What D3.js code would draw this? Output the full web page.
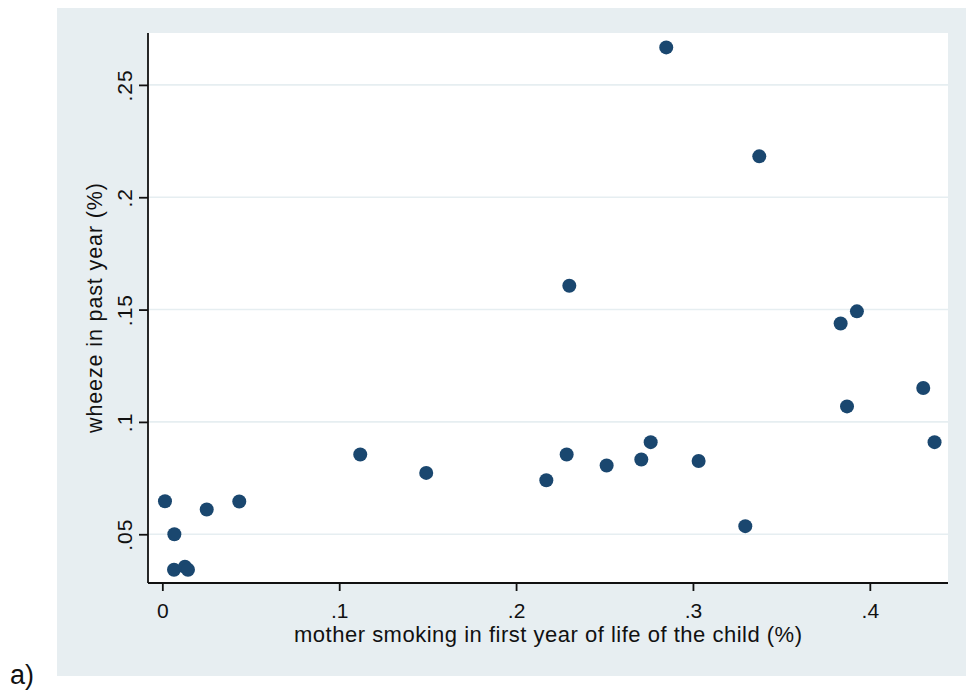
<!DOCTYPE html>
<html>
<head>
<meta charset="utf-8">
<script src="https://cdn.jsdelivr.net/npm/d3@7"></script>
<style>
  html, body { margin: 0; padding: 0; background: #ffffff; }
  svg { display: block; }
  text { font-family: "Liberation Sans", Arial, sans-serif; fill: #111; }
</style>
</head>
<body>
<script>
// ---- data ----
const motherSmoking = [0.0015, 0.0068, 0.0066, 0.0128, 0.0145, 0.0251, 0.0435, 0.1119, 0.1492,
  0.2171, 0.2286, 0.2301, 0.2512, 0.2708, 0.2761, 0.2849, 0.3032, 0.3296, 0.3375,
  0.3835, 0.3871, 0.3927, 0.4302, 0.4366];
const wheeze = [0.0647, 0.0500, 0.0342, 0.0355, 0.0342, 0.0610, 0.0646, 0.0855, 0.0773,
  0.0740, 0.0855, 0.1606, 0.0806, 0.0833, 0.0910, 0.2667, 0.0826, 0.0536, 0.2182,
  0.1438, 0.1069, 0.1492, 0.1151, 0.0910];
const xTickValues = [0, 0.1, 0.2, 0.3, 0.4];
const xTickLabels = ["0", ".1", ".2", ".3", ".4"];
const yTickValues = [0.05, 0.1, 0.15, 0.2, 0.25];
const yTickLabels = [".05", ".1", ".15", ".2", ".25"];
const xTitle = "mother smoking in first year of life of the child (%)";
const yTitle = "wheeze in past year (%)";
const panelLabel = "a)";

// ---- layout ----
const W = 966, H = 691;
const plot = { left: 148, right: 948, top: 33, bottom: 583 };

const svg = d3.select("body").append("svg").attr("width", W).attr("height", H);

// outer graph region
svg.append("rect").attr("x", 57).attr("y", 8).attr("width", W - 57).attr("height", 676 - 8)
  .attr("fill", "#e7eef1");
// plot region
svg.append("rect").attr("x", plot.left).attr("y", plot.top)
  .attr("width", plot.right - plot.left).attr("height", plot.bottom - plot.top)
  .attr("fill", "#ffffff");

const x = d3.scaleLinear().domain([-0.0081, 0.4442]).range([plot.left, plot.right]);
const y = d3.scaleLinear().domain([0.0283, 0.2731]).range([plot.bottom, plot.top]);

// gridlines
svg.append("g").selectAll("line").data(yTickValues).join("line")
  .attr("x1", plot.left).attr("x2", plot.right)
  .attr("y1", d => y(d)).attr("y2", d => y(d))
  .attr("stroke", "#e6eef1").attr("stroke-width", 1.6);

// x axis
const xAxis = d3.axisBottom(x).tickValues(xTickValues)
  .tickFormat((d, i) => xTickLabels[i]).tickSizeOuter(0).tickSizeInner(8);
const gx = svg.append("g").attr("transform", `translate(0,${plot.bottom})`).call(xAxis);
gx.select(".domain").remove();
gx.selectAll(".tick line").attr("stroke", "#111").attr("stroke-width", 1.8);
gx.selectAll(".tick text").attr("font-size", 21).attr("fill", "#111")
  .attr("dy", null).attr("y", 34.5);
svg.append("line").attr("x1", plot.left).attr("x2", plot.right)
  .attr("y1", plot.bottom).attr("y2", plot.bottom).attr("stroke", "#111").attr("stroke-width", 1.8);

// y axis
const yAxis = d3.axisLeft(y).tickValues(yTickValues)
  .tickFormat((d, i) => yTickLabels[i]).tickSizeOuter(0).tickSizeInner(9);
const gy = svg.append("g").attr("transform", `translate(${plot.left},0)`).call(yAxis);
gy.select(".domain").remove();
gy.selectAll(".tick line").attr("stroke", "#111").attr("stroke-width", 1.8);
gy.selectAll(".tick text").attr("font-size", 21).attr("fill", "#111")
  .attr("x", null).attr("dy", null)
  .attr("text-anchor", "middle")
  .attr("letter-spacing", 1)
  .attr("transform", "translate(-16.5,0) rotate(-90)");
svg.append("line").attr("x1", plot.left).attr("x2", plot.left)
  .attr("y1", plot.top).attr("y2", plot.bottom).attr("stroke", "#111").attr("stroke-width", 1.8);

// markers
const pts = motherSmoking.map((v, i) => ({ x: v, y: wheeze[i] }));
svg.append("g").selectAll("circle").data(pts).join("circle")
  .attr("cx", d => x(d.x)).attr("cy", d => y(d.y)).attr("r", 7)
  .attr("fill", "#1a476f");

// axis titles
svg.append("text").attr("x", (plot.left + plot.right) / 2).attr("y", 642)
  .attr("text-anchor", "middle").attr("font-size", 22)
  .attr("textLength", 508).attr("lengthAdjust", "spacing").text(xTitle);
svg.append("text").attr("transform", `translate(102,${(plot.top + plot.bottom) / 2}) rotate(-90)`)
  .attr("text-anchor", "middle").attr("font-size", 21.5)
  .attr("textLength", 250).attr("lengthAdjust", "spacing").text(yTitle);

// panel label
svg.append("text").attr("x", 10).attr("y", 684).attr("font-size", 27).text(panelLabel);
</script>
</body>
</html>
